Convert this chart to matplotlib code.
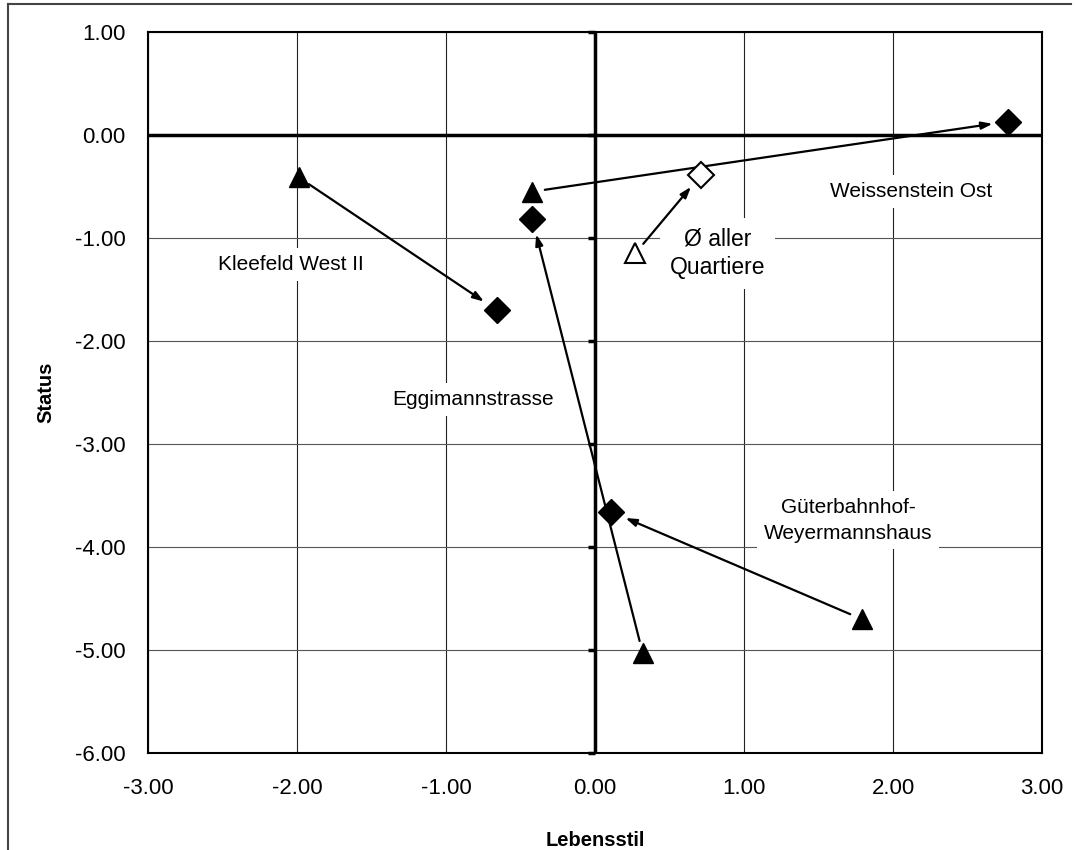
import numpy as np
import matplotlib.pyplot as plt
from matplotlib.lines import Line2D

plt.rcParams['font.family'] = ['Liberation Sans', 'DejaVu Sans']

# data: start (triangle) and end (diamond) of each quarter
quartiere = ["Kleefeld West II", "Weissenstein Ost", "Eggimannstrasse",
             "Güterbahnhof-\nWeyermannshaus"]
lebensstil_alt = [-1.99, -0.42, 0.32, 1.79]
status_alt = [-0.41, -0.55, -5.03, -4.70]
lebensstil_neu = [-0.66, 2.77, -0.42, 0.11]
status_neu = [-1.70, 0.13, -0.82, -3.66]

# average of all quarters
mittel_name = "Ø aller\nQuartiere"
mittel_lebensstil = [0.27, 0.71]
mittel_status = [-1.15, -0.39]

# label positions (x, y)
label_pos = [(-2.04, -1.26), (2.12, -0.55), (-0.82, -2.57), (1.70, -3.74)]
mittel_label_pos = (0.82, -1.15)

xticks = np.arange(-3, 4, 1)
yticks = np.arange(-6, 2, 1)

fig = plt.figure(figsize=(10.75, 8.5), dpi=100)
ax = fig.add_axes([0.1377, 0.1141, 0.8316, 0.8483])

ax.set_xlim(-3, 3)
ax.set_ylim(-6, 1)
ax.set_xticks(xticks)
ax.set_yticks(yticks)
ax.set_xticklabels([f"{v:.2f}" for v in xticks])
ax.set_yticklabels([f"{v:.2f}" for v in yticks])
ax.tick_params(length=0, labelsize=16)
ax.tick_params(axis='y', pad=16)
ax.tick_params(axis='x', pad=18)
for s in ax.spines.values():
    s.set_linewidth(1.5)

ax.grid(True, axis='x', color='#222222', linewidth=0.8)
ax.grid(True, axis='y', color='#555555', linewidth=0.8)
ax.set_axisbelow(True)

# zero axes
ax.axhline(0, color='black', linewidth=2.5, zorder=2)
ax.axvline(0, color='black', linewidth=2.5, zorder=2)
ax.plot(np.zeros(len(yticks)), yticks, linestyle='none', marker=0,
        markersize=5, markeredgewidth=2.5, color='black', zorder=2,
        clip_on=False)

ax.set_xlabel("Lebensstil", fontsize=14.5, fontweight='bold', labelpad=23)
ax.set_ylabel("Status", fontsize=14.5, fontweight='bold', labelpad=14)

arrow = dict(arrowstyle='-|>,head_length=0.65,head_width=0.22', color='black',
             linewidth=1.6, shrinkA=9, shrinkB=11)

for i in range(len(quartiere)):
    ax.annotate("", xy=(lebensstil_neu[i], status_neu[i]),
                xytext=(lebensstil_alt[i], status_alt[i]),
                arrowprops=arrow, zorder=3)
    ax.plot(lebensstil_alt[i], status_alt[i], marker='^', markersize=15,
            color='black', linestyle='none', zorder=4)
    ax.plot(lebensstil_neu[i], status_neu[i], marker='D', markersize=13.5,
            color='black', linestyle='none', zorder=4)
    ax.text(label_pos[i][0], label_pos[i][1], quartiere[i], fontsize=15,
            ha='center', va='center', linespacing=1.45, zorder=2.5,
            bbox=dict(facecolor='white', edgecolor='none', pad=5))

ax.annotate("", xy=(mittel_lebensstil[1], mittel_status[1]),
            xytext=(mittel_lebensstil[0], mittel_status[0]),
            arrowprops=arrow, zorder=3)
ax.plot(mittel_lebensstil[0], mittel_status[0], marker='^', markersize=15,
        markerfacecolor='white', markeredgecolor='black', markeredgewidth=1.5,
        linestyle='none', zorder=4)
ax.plot(mittel_lebensstil[1], mittel_status[1], marker='D', markersize=13,
        markerfacecolor='white', markeredgecolor='black', markeredgewidth=1.5,
        linestyle='none', zorder=4)
ax.text(mittel_label_pos[0], mittel_label_pos[1], mittel_name, fontsize=16.5,
        ha='center', va='center', linespacing=1.3, zorder=2.5,
        bbox=dict(facecolor='white', edgecolor='none', pad=7))

# outer frame (top and left only)
fig.add_artist(Line2D([8 / 1075, 8 / 1075], [0, 1 - 4 / 850],
                      transform=fig.transFigure, color='#444444', linewidth=1.5))
fig.add_artist(Line2D([8 / 1075, 1071 / 1075], [1 - 4 / 850, 1 - 4 / 850],
                      transform=fig.transFigure, color='#444444', linewidth=1.5))

fig.savefig("out.png", dpi=100)
